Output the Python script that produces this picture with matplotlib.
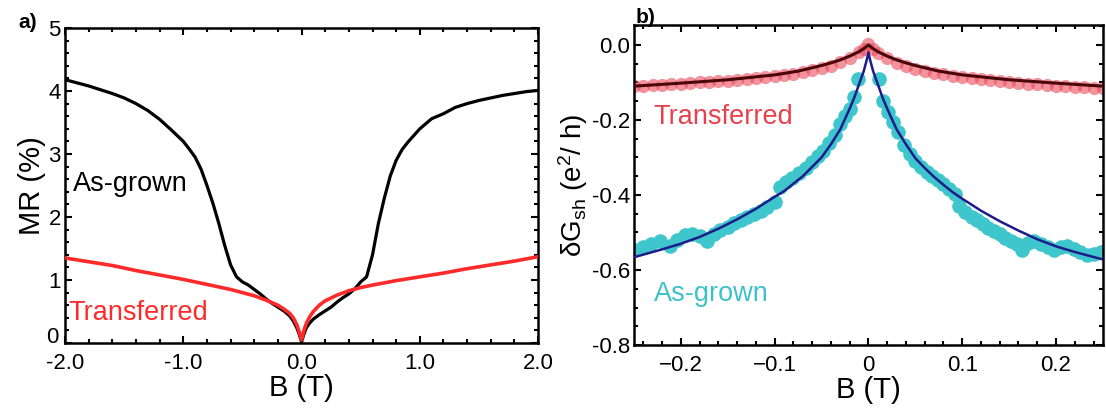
import numpy as np
import matplotlib
matplotlib.use("Agg")
import matplotlib.pyplot as plt
from matplotlib.ticker import MultipleLocator

plt.rcParams['font.family'] = ['Liberation Sans', 'DejaVu Sans']
plt.rcParams['mathtext.fontset'] = 'custom'
plt.rcParams['mathtext.rm'] = 'Liberation Sans'
plt.rcParams['mathtext.it'] = 'Liberation Sans:italic'

# ---- panel a: MR vs B ----
b_grown = [-2.0, -1.9, -1.8, -1.7, -1.6, -1.5, -1.4, -1.3, -1.2, -1.1, -1.0, -0.95, -0.9,
           -0.85, -0.8, -0.75, -0.7, -0.65, -0.6, -0.55, -0.5, -0.45, -0.4, -0.35, -0.3,
           -0.25, -0.2, -0.15, -0.1, -0.07, -0.04, -0.02, 0.0, 0.02, 0.04, 0.07, 0.1, 0.15,
           0.2, 0.25, 0.3, 0.35, 0.4, 0.45, 0.5, 0.55, 0.6, 0.65, 0.7, 0.75, 0.8, 0.85,
           0.9, 1.0, 1.1, 1.2, 1.3, 1.4, 1.5, 1.6, 1.7, 1.8, 1.9, 2.0]
mr_grown = [4.18, 4.13, 4.08, 4.02, 3.96, 3.89, 3.80, 3.69, 3.55, 3.38, 3.20, 3.08, 2.95,
            2.76, 2.50, 2.22, 1.90, 1.55, 1.24, 1.05, 0.97, 0.92, 0.85, 0.78, 0.70,
            0.63, 0.57, 0.51, 0.43, 0.35, 0.24, 0.14, 0.02, 0.14, 0.24, 0.32, 0.38, 0.45,
            0.51, 0.57, 0.65, 0.72, 0.78, 0.86, 0.97, 1.05, 1.40, 1.90, 2.30, 2.65, 2.90, 3.07,
            3.19, 3.40, 3.56, 3.64, 3.74, 3.80, 3.85, 3.89, 3.93, 3.96, 3.99, 4.01]

b_trans = [-2.0, -1.8, -1.6, -1.4, -1.2, -1.0, -0.8, -0.6, -0.5, -0.4, -0.3, -0.2, -0.15,
           -0.1, -0.07, -0.04, -0.02, 0.0, 0.02, 0.04, 0.07, 0.1, 0.15, 0.2, 0.3, 0.4, 0.5,
           0.6, 0.8, 1.0, 1.2, 1.4, 1.6, 1.8, 2.0]
mr_trans = [1.35, 1.29, 1.23, 1.15, 1.08, 1.01, 0.93, 0.85, 0.80, 0.75, 0.68, 0.60, 0.54,
            0.47, 0.40, 0.29, 0.18, 0.05, 0.20, 0.31, 0.42, 0.50, 0.60, 0.67, 0.76, 0.83, 0.88,
            0.92, 0.99, 1.05, 1.11, 1.18, 1.24, 1.30, 1.37]

# ---- panel b: dG_sh vs B ----
bt_pts = [-0.25, -0.24, -0.23, -0.22, -0.21, -0.20, -0.19, -0.18, -0.17, -0.16, -0.15, -0.14,
          -0.13, -0.12, -0.11, -0.10, -0.09, -0.08, -0.07, -0.06, -0.05, -0.04, -0.03, -0.02,
          -0.01, -0.005, 0.0, 0.005, 0.01, 0.02, 0.03, 0.04, 0.05, 0.06, 0.07, 0.08, 0.09,
          0.10, 0.11, 0.12, 0.13, 0.14, 0.15, 0.16, 0.17, 0.18, 0.19, 0.20, 0.21, 0.22, 0.23,
          0.24, 0.25]
dg_trans = [-0.110, -0.109, -0.108, -0.106, -0.105, -0.103, -0.102, -0.100, -0.099, -0.097,
            -0.095, -0.093, -0.091, -0.088, -0.086, -0.083, -0.080, -0.077, -0.073, -0.068,
            -0.062, -0.055, -0.046, -0.035, -0.020, -0.010, 0.003, -0.010, -0.021, -0.036,
            -0.047, -0.056, -0.063, -0.069, -0.074, -0.078, -0.082, -0.085, -0.088, -0.091,
            -0.094, -0.096, -0.099, -0.101, -0.103, -0.105, -0.107, -0.109, -0.110, -0.112,
            -0.113, -0.115, -0.116]

bt_fit = [-0.25, -0.2, -0.15, -0.1, -0.075, -0.05, -0.04, -0.03, -0.02, -0.01, -0.005, 0.0,
          0.005, 0.01, 0.02, 0.03, 0.04, 0.05, 0.075, 0.1, 0.15, 0.2, 0.25]
fit_trans = [-0.110, -0.102, -0.093, -0.080, -0.070, -0.055, -0.048, -0.040, -0.030, -0.018,
             -0.010, 0.0, -0.010, -0.018, -0.030, -0.040, -0.048, -0.055, -0.070, -0.080,
             -0.093, -0.102, -0.110]

bg_pts = [-0.250, -0.240, -0.232, -0.222, -0.212, -0.204, -0.196, -0.188, -0.180, -0.172,
          -0.165, -0.158, -0.150, -0.143, -0.136, -0.129, -0.122, -0.115, -0.108, -0.100,
          -0.094, -0.088, -0.081, -0.074, -0.067, -0.060, -0.054, -0.048, -0.042, -0.036,
          -0.030, -0.025, -0.020, -0.015, -0.011, 0.011, 0.016, 0.021, 0.026, 0.032, 0.038,
          0.044, 0.050, 0.056, 0.062, 0.068, 0.074, 0.080, 0.086, 0.092, 0.097, 0.103, 0.110,
          0.116, 0.122, 0.128, 0.134, 0.140, 0.146, 0.152, 0.158, 0.164, 0.170, 0.177, 0.184,
          0.191, 0.198, 0.205, 0.212, 0.219, 0.226, 0.233, 0.240, 0.248]
dg_grown = [-0.548, -0.540, -0.530, -0.524, -0.535, -0.520, -0.508, -0.505, -0.510, -0.522,
            -0.505, -0.493, -0.485, -0.476, -0.468, -0.460, -0.452, -0.443, -0.433, -0.420,
            -0.378, -0.365, -0.355, -0.342, -0.328, -0.312, -0.297, -0.282, -0.262, -0.240,
            -0.212, -0.190, -0.170, -0.140, -0.092, -0.092, -0.150, -0.180, -0.205, -0.232,
            -0.268, -0.292, -0.310, -0.325, -0.338, -0.350, -0.360, -0.372, -0.385, -0.398,
            -0.430, -0.445, -0.458, -0.468, -0.478, -0.487, -0.496, -0.505, -0.514, -0.523,
            -0.532, -0.548, -0.528, -0.522, -0.530, -0.540, -0.546, -0.540, -0.537, -0.544,
            -0.552, -0.560, -0.558, -0.553]

bg_fit = [-0.25, -0.22, -0.2, -0.18, -0.16, -0.14, -0.12, -0.1, -0.09, -0.08, -0.07, -0.06,
          -0.05, -0.04, -0.03, -0.02, -0.015, -0.01, -0.005, -0.002, 0.0, 0.002, 0.005, 0.01,
          0.015, 0.02, 0.03, 0.04, 0.05, 0.06, 0.07, 0.08, 0.09, 0.1, 0.12, 0.14, 0.16, 0.18,
          0.2, 0.22, 0.25]
fit_grown = [-0.566, -0.545, -0.530, -0.512, -0.490, -0.465, -0.437, -0.405, -0.390, -0.370,
             -0.350, -0.325, -0.300, -0.265, -0.225, -0.170, -0.140, -0.105, -0.070, -0.042,
             -0.020, -0.042, -0.070, -0.105, -0.140, -0.170, -0.225, -0.265, -0.302, -0.328,
             -0.352, -0.373, -0.393, -0.410, -0.442, -0.470, -0.495, -0.518, -0.537, -0.552,
             -0.572]


def style_axes(ax):
    ax.tick_params(which='both', direction='in', top=True, right=True,
                   labelsize=16, width=1.5, pad=3)
    ax.tick_params(axis='x', which='both', pad=7)
    ax.tick_params(which='major', length=5)
    ax.tick_params(which='minor', length=3)
    for sp in ax.spines.values():
        sp.set_linewidth(1.8)


fig = plt.figure(figsize=(11.06, 4.18), dpi=100)
ax1 = fig.add_axes([0.0588, 0.1794, 0.4277, 0.7536])
ax2 = fig.add_axes([0.5732, 0.1746, 0.4240, 0.7656])

# panel a
ax1.plot(b_grown, mr_grown, color='black', lw=2.3, zorder=2)
ax1.plot(b_trans, mr_trans, color='#ff2a2a', lw=2.6, zorder=3)
ax1.set_xlim(-2.0, 2.0)
ax1.set_ylim(0, 5)
ax1.xaxis.set_minor_locator(MultipleLocator(0.2))
ax1.yaxis.set_minor_locator(MultipleLocator(0.2))
ax1.set_xticks([-2.0, -1.0, 0.0, 1.0, 2.0])
ax1.set_xticklabels(['-2.0', '-1.0', '0.0', '1.0', '2.0'])
ax1.set_yticks([0, 1, 2, 3, 4, 5])
# the "0" is drawn separately, lifted a little above the "-2.0" label
ax1.set_yticklabels(['', '1', '2', '3', '4', '5'])
style_axes(ax1)
ax1.annotate('0', xy=(0, 0), xycoords='axes fraction', xytext=(-5, 4),
             textcoords='offset points', ha='right', va='center', fontsize=16)
ax1.set_xlabel('B (T)', fontsize=21, labelpad=0)
ax1.set_ylabel('MR (%)', fontsize=21, labelpad=2)
ax1.text(-1.93, 2.53, 'As-grown', color='black', fontsize=19.5, va='center')
ax1.text(-1.97, 0.47, 'Transferred', color='#ff2a2a', fontsize=19.5, va='center')

# panel b
ax2.plot(bt_pts, dg_trans, 'o', color='#ea4c5c', alpha=0.6, ms=9.5, mec='none', zorder=2)
ax2.plot(bt_fit, fit_trans, color='#4a0608', lw=2.2, zorder=3)
ax2.plot(bg_pts, dg_grown, 'o', color='#3ec6cc', ms=10.5, mec='none', zorder=2)
ax2.plot(bg_fit, fit_grown, color='#1c1c8a', lw=1.8, zorder=3)
ax2.set_xlim(-0.25, 0.25)
ax2.set_ylim(-0.8, 0.053)
ax2.xaxis.set_minor_locator(MultipleLocator(0.02))
ax2.yaxis.set_minor_locator(MultipleLocator(0.05))
ax2.set_xticks([-0.2, -0.1, 0.0, 0.1, 0.2])
ax2.set_xticklabels(['\u22120.2', '\u22120.1', '0', '0.1', '0.2'])
ax2.set_yticks([0.0, -0.2, -0.4, -0.6, -0.8])
ax2.set_yticklabels(['0.0', '-0.2', '-0.4', '-0.6', '-0.8'])
style_axes(ax2)
ax2.set_xlabel('B (T)', fontsize=21, labelpad=0)
ax2.set_ylabel(r'δG$_{\mathrm{sh}}$ (e$^{2}$/ h)', fontsize=20, labelpad=1)
ax2.text(-0.229, -0.192, 'Transferred', color='#e8404c', fontsize=19.5, va='center')
ax2.text(-0.229, -0.665, 'As-grown', color='#3ec2ca', fontsize=19.5, va='center')

fig.text(0.025, 0.947, 'a)', fontsize=15, fontweight='bold', ha='center', va='center')
fig.text(0.584, 0.957, 'b)', fontsize=15, fontweight='bold', ha='center', va='center')

fig.savefig('out.png', dpi=100)
